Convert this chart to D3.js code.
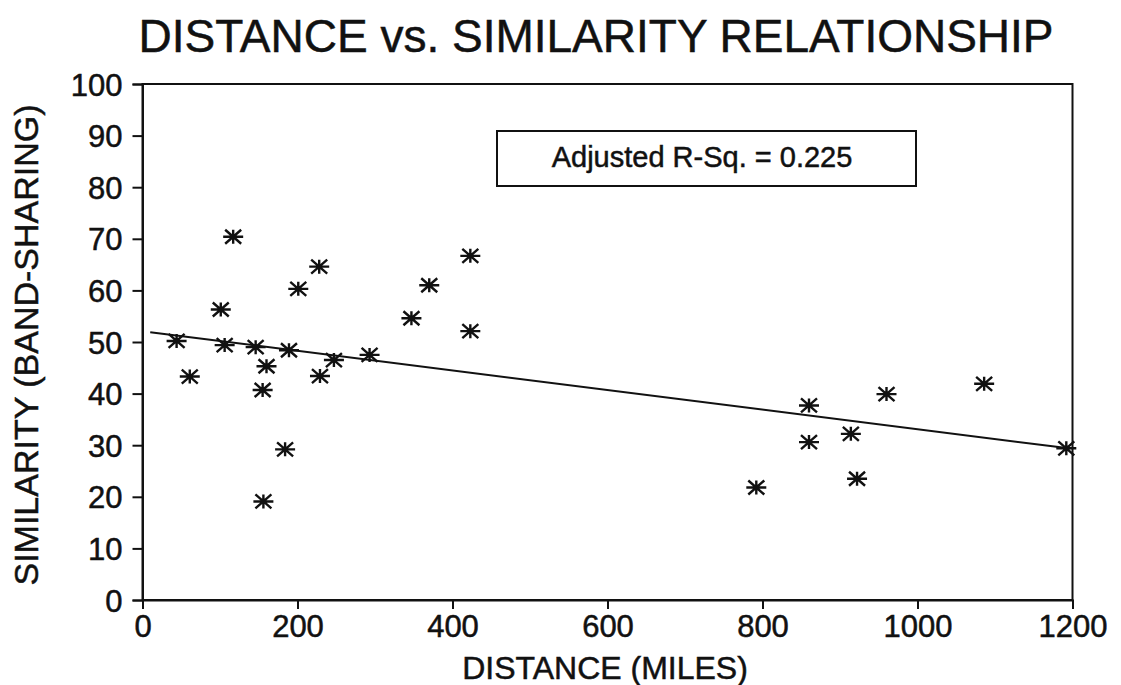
<!DOCTYPE html>
<html>
<head>
<meta charset="utf-8">
<script src="https://cdn.jsdelivr.net/npm/d3@7"></script>
<style>
body { margin: 0; background: #fff; }
text { font-family: "Liberation Sans", Arial, sans-serif; fill: #111; stroke: #111; stroke-width: 0.5px; }
</style>
</head>
<body>
<div id="chart"></div>
<script>
// distance (miles) and band-sharing similarity
var distance = [44, 61, 117, 101, 106, 146, 160, 155, 156, 184, 189, 201, 228, 229, 247, 293,
                347, 370, 423, 423, 792, 860, 860, 914, 922, 960, 1086, 1192];
var similarity = [50.2, 43.3, 70.4, 56.3, 49.4, 49.0, 45.3, 40.7, 19.1, 29.2, 48.4, 60.3, 64.6, 43.4, 46.5, 47.5,
                  54.6, 61.0, 66.7, 52.1, 21.8, 37.7, 30.6, 32.2, 23.5, 39.9, 41.9, 29.4];
var fitX = [10, 1195];
var fitY = [51.9, 29.4];
var xTicks = [0, 200, 400, 600, 800, 1000, 1200];
var yTicks = [0, 10, 20, 30, 40, 50, 60, 70, 80, 90, 100];
var rsqLabel = "Adjusted R-Sq. = 0.225";

var W = 1121, H = 685;
var margin = {top: 84, right: 48.5, bottom: 85, left: 142.5},
    width = W - margin.left - margin.right,
    height = H - margin.top - margin.bottom;

var svg = d3.select("#chart").append("svg")
    .attr("width", W)
    .attr("height", H);

svg.append("text")
    .attr("x", 596).attr("y", 52)
    .attr("text-anchor", "middle")
    .style("font-size", "46px")
    .text("DISTANCE vs. SIMILARITY RELATIONSHIP");

var g = svg.append("g")
    .attr("transform", "translate(" + margin.left + "," + margin.top + ")");

var xScale = d3.scaleLinear().domain([0, 1200]).range([0, width]);
var yScale = d3.scaleLinear().domain([0, 100]).range([height, 0]);

// frame
g.append("rect")
    .attr("width", width).attr("height", height)
    .attr("fill", "none").attr("stroke", "#111").attr("stroke-width", 2);

var xAxis = g.append("g")
    .attr("transform", "translate(0," + height + ")")
    .call(d3.axisBottom(xScale).tickValues(xTicks).tickSize(9).tickPadding(6).tickFormat(d3.format("d")));
var yAxis = g.append("g")
    .call(d3.axisLeft(yScale).tickValues(yTicks).tickSize(10).tickPadding(10).tickFormat(d3.format("d")));

[xAxis, yAxis].forEach(function(a) {
    a.select(".domain").attr("stroke", "#111").attr("stroke-width", 2);
    a.selectAll(".tick line").attr("stroke", "#111").attr("stroke-width", 2);
    a.selectAll(".tick text")
	.style("font-size", "31px")
	.style("font-family", "'Liberation Sans', Arial, sans-serif")
	.attr("fill", "#111");
});
yAxis.selectAll(".tick text").attr("dy", "0.36em");

// regression line
g.append("line")
    .attr("x1", xScale(fitX[0])).attr("y1", yScale(fitY[0]))
    .attr("x2", xScale(fitX[1])).attr("y2", yScale(fitY[1]))
    .attr("stroke", "#111").attr("stroke-width", 2);

// asterisk markers
var star = "M-10,0L10,0M0,-7L0,7M-8,-7L8,7M-8,7L8,-7";
g.selectAll(".pt")
    .data(distance)
    .enter()
    .append("path")
    .attr("class", "pt")
    .attr("transform", function(d, i) { return "translate(" + xScale(d) + "," + yScale(similarity[i]) + ")"; })
    .attr("d", star)
    .attr("fill", "none")
    .attr("stroke", "#111")
    .attr("stroke-width", 2.4);

// R-squared box
var box = svg.append("g");
box.append("rect")
    .attr("x", 497).attr("y", 131).attr("width", 419).attr("height", 55)
    .attr("fill", "#fff").attr("stroke", "#111").attr("stroke-width", 2);
box.append("text")
    .attr("x", 702).attr("y", 167)
    .attr("text-anchor", "middle")
    .style("font-size", "29px")
    .text(rsqLabel);

// axis titles
svg.append("text")
    .attr("x", 605).attr("y", 679)
    .attr("text-anchor", "middle")
    .style("font-size", "32px")
    .text("DISTANCE (MILES)");

svg.append("text")
    .attr("transform", "translate(38,345)rotate(-90)")
    .attr("text-anchor", "middle")
    .style("font-size", "34px")
    .text("SIMILARITY (BAND-SHARING)");
</script>
</body>
</html>
